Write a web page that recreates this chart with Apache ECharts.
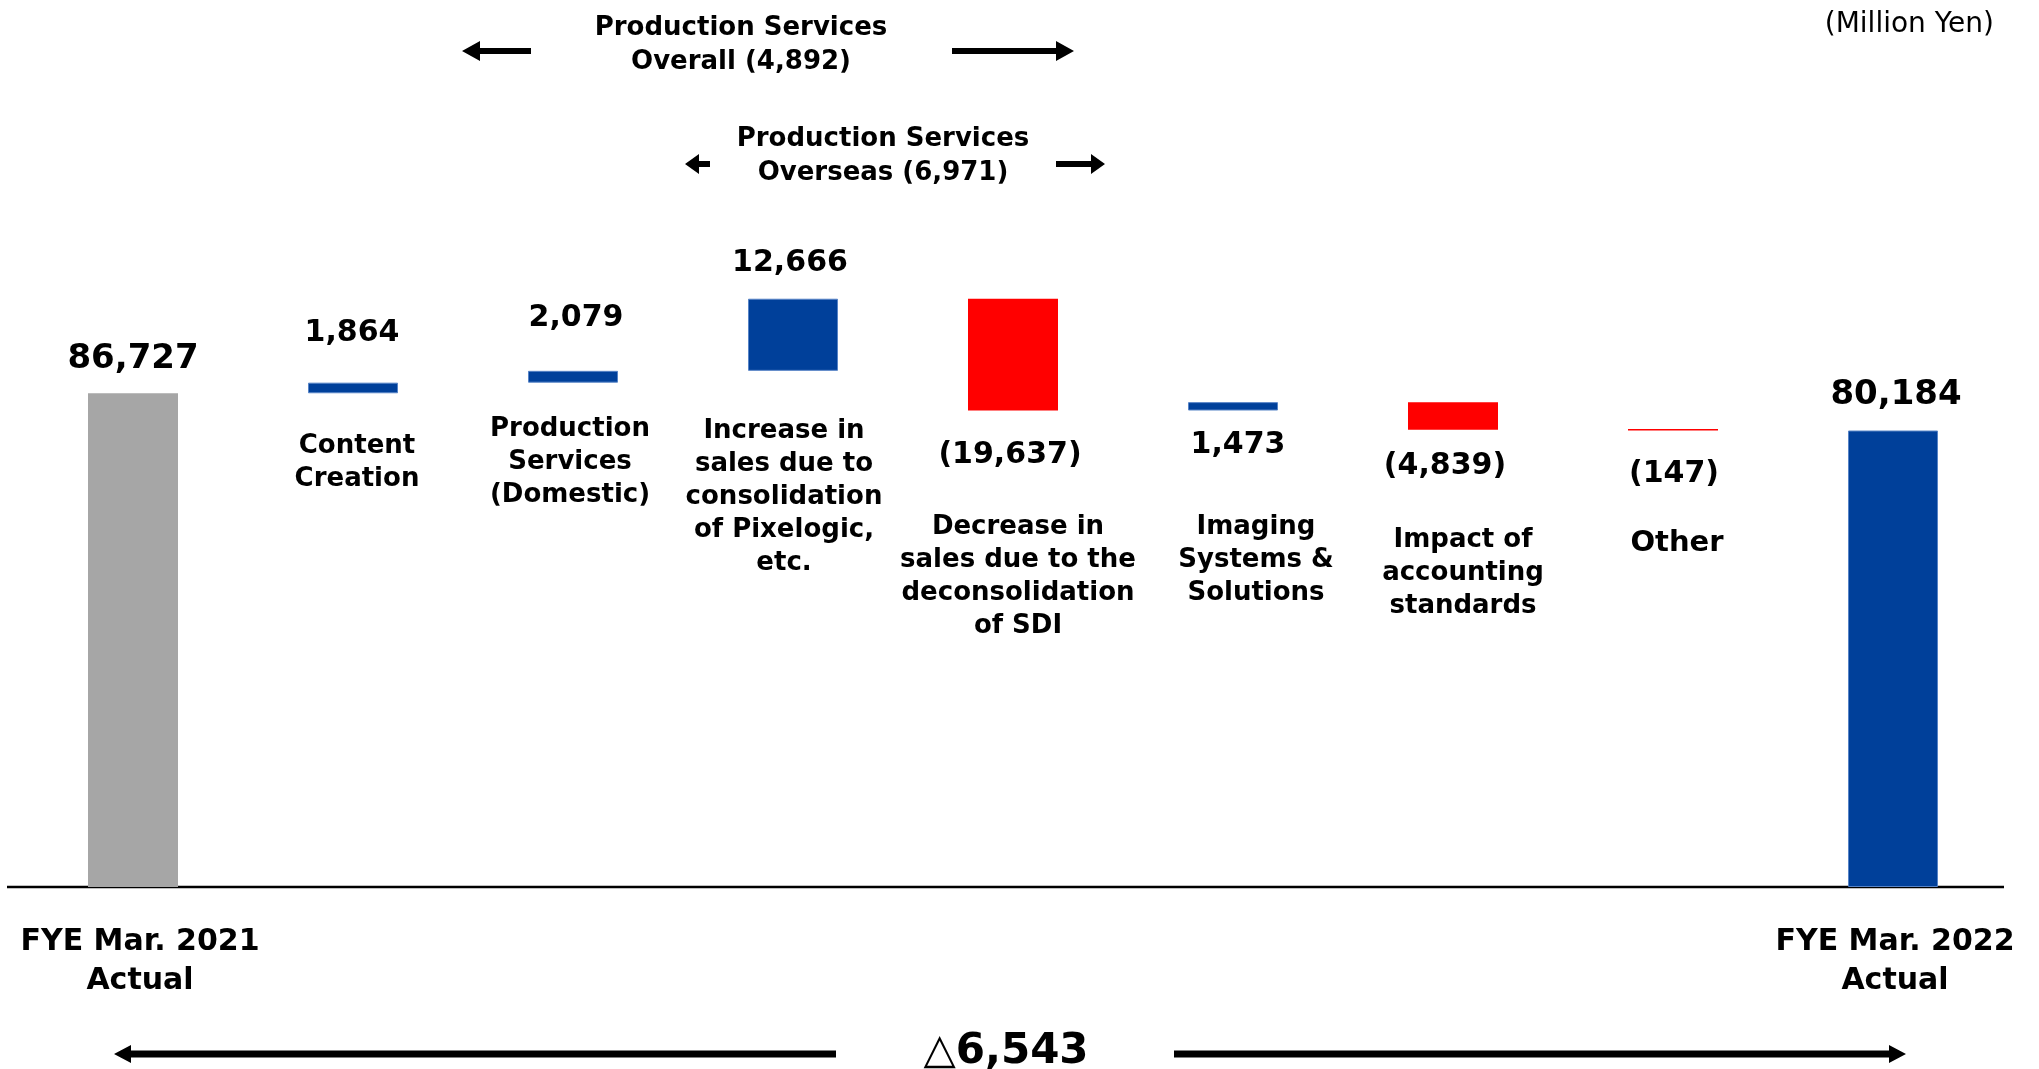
<!DOCTYPE html>
<html>
<head>
<meta charset="utf-8">
<title>Sales bridge FYE Mar. 2021 to FYE Mar. 2022</title>
<script src="https://cdn.jsdelivr.net/npm/echarts@6/dist/echarts.min.js"></script>
<style>
  html, body { margin: 0; padding: 0; background: #fff; }
  #chart { width: 2039px; height: 1069px; }
</style>
</head>
<body>
<div id="chart"></div>
<script>
// Sales bridge (Million Yen)
const startTotal = 86727;
const endTotal = 80184;
const changeValues = [1864, 2079, 12666, -19637, 1473, -4839, -147];
const categories = [
  'FYE Mar. 2021\nActual',
  'Content\nCreation',
  'Production\nServices\n(Domestic)',
  'Increase in\nsales due to\nconsolidation\nof Pixelogic,\netc.',
  'Decrease in\nsales due to the\ndeconsolidation\nof SDI',
  'Imaging\nSystems &\nSolutions',
  'Impact of\naccounting\nstandards',
  'Other',
  'FYE Mar. 2022\nActual'
];

const FONT = '"DejaVu Sans", Verdana, "Noto Sans", sans-serif';
const GRAY = '#A6A6A6';
const BLUE = '#00409A';
const RED = '#FF0000';

const fmt = v => {
  const s = Math.abs(v).toLocaleString('en-US');
  return v < 0 ? '(' + s + ')' : s;
};

// Signed values per column: opening total, changes, closing total
const signed = [startTotal].concat(changeValues, [endTotal]);
const lastIdx = signed.length - 1;

// Per-column value label placement
const valueLabelPlacement = [
  { position: 'top', distance: 17, fontSize: 34, dx: 0 },
  { position: 'top', distance: 34, dx: -1 },
  { position: 'top', distance: 38, dx: 3 },
  { position: 'top', distance: 21, dx: -3 },
  { position: 'bottom', distance: 30, dx: -3 },
  { position: 'bottom', distance: 20, dx: 5 },
  { position: 'bottom', distance: 22, dx: -8 },
  { position: 'bottom', distance: 29, dx: 1 },
  { position: 'top', distance: 18, fontSize: 34, dx: 3 }
];
// Offset of each change's name block from the lower end of its bar
const namePlacement = [
  null,
  { dx: 4, dy: 36.5, size: 26 },
  { dx: -3, dy: 30, size: 26 },
  { dx: -9, dy: 44, size: 26 },
  { dx: 5, dy: 100.5, size: 26 },
  { dx: 23, dy: 100.5, size: 26 },
  { dx: 10, dy: 94.5, size: 26 },
  { dx: 4, dy: 96.5, size: 29 },
  null
];

const baseData = [];
const barData = [];
const nameData = [];
let running = startTotal;
signed.forEach((v, i) => {
  const lp = valueLabelPlacement[i];
  let base, height, color;
  if (i === 0 || i === lastIdx) {
    base = 0;
    height = v;
    color = i === 0 ? GRAY : BLUE;
  } else {
    const next = running + v;
    base = Math.min(running, next);
    height = Math.abs(v);
    color = v >= 0 ? BLUE : RED;
    running = next;
    nameData.push([i, base]);
  }
  baseData.push(base);
  barData.push({
    value: height,
    itemStyle: color === BLUE
      ? { color: color, borderColor: '#5683C6', borderWidth: 1 }
      : { color: color, borderWidth: 0 },
    label: {
      position: lp.position,
      distance: lp.distance,
      offset: [lp.dx, 0],
      fontSize: lp.fontSize || 30,
      lineHeight: lp.fontSize || 30,
      formatter: () => fmt(v)
    }
  });
});

const overseasChange = changeValues[2] + changeValues[3];
const overallChange = changeValues[1] + overseasChange;
const totalChange = endTotal - startTotal;

const axisRich = {
  first: { fontSize: 30, fontWeight: 'bold', lineHeight: 39, color: '#000', fontFamily: FONT, padding: [0, 0, 0, 14] },
  last: { fontSize: 30, fontWeight: 'bold', lineHeight: 39, color: '#000', fontFamily: FONT, padding: [0, 0, 0, 4] }
};

const chart = echarts.init(document.getElementById('chart'), null, { renderer: 'canvas' });

chart.setOption({
  backgroundColor: '#ffffff',
  animation: false,
  textStyle: { fontFamily: FONT, color: '#000' },
  grid: { left: 23, right: 36, top: 90, bottom: 182, containLabel: false },
  xAxis: {
    type: 'category',
    data: categories,
    axisLine: { show: false },
    axisTick: { show: false },
    axisLabel: {
      interval: 0,
      margin: 36,
      fontSize: 30,
      fontWeight: 'bold',
      lineHeight: 39,
      color: '#000',
      fontFamily: FONT,
      rich: axisRich,
      formatter: (val, idx) => {
        if (idx !== 0 && idx !== lastIdx) return '';
        const key = idx === 0 ? 'first' : 'last';
        return val.split('\n').map(s => '{' + key + '|' + s + '}').join('\n');
      }
    }
  },
  yAxis: {
    type: 'value',
    min: 0,
    max: 140000,
    show: false,
    splitLine: { show: false }
  },
  series: [
    {
      name: 'base',
      type: 'bar',
      stack: 'bridge',
      barWidth: 90,
      silent: true,
      itemStyle: { color: 'transparent' },
      data: baseData
    },
    {
      name: 'change',
      type: 'bar',
      stack: 'bridge',
      barWidth: 90,
      barMinHeight: 1.5,
      silent: true,
      label: {
        show: true,
        color: '#000',
        fontWeight: 'bold',
        fontFamily: FONT
      },
      data: barData
    },
    {
      // Category names written under each change bar
      name: 'names',
      type: 'custom',
      silent: true,
      data: nameData,
      renderItem: (params, api) => {
        const idx = api.value(0);
        const pt = api.coord([idx, api.value(1)]);
        const np = namePlacement[idx];
        return {
          type: 'text',
          x: pt[0] + np.dx,
          y: pt[1] + np.dy,
          style: {
            text: categories[idx],
            fill: '#000',
            font: 'bold ' + np.size + 'px ' + FONT,
            lineHeight: 33,
            align: 'center',
            verticalAlign: 'top'
          }
        };
      }
    }
  ]
});

// Baseline, bracket arrows and annotation texts
function arrow(tailX, headX, y, shaft, headLen, headHalf) {
  const dir = headX > tailX ? 1 : -1;
  const neck = headX - dir * headLen;
  return {
    type: 'polygon',
    silent: true,
    shape: {
      points: [
        [tailX, y - shaft / 2], [neck, y - shaft / 2], [neck, y - headHalf],
        [headX, y], [neck, y + headHalf], [neck, y + shaft / 2], [tailX, y + shaft / 2]
      ]
    },
    style: { fill: '#000' }
  };
}
function text(str, x, y, opts) {
  return {
    type: 'text',
    silent: true,
    x: x, y: y,
    style: Object.assign({
      text: str,
      fill: '#000',
      font: 'bold 26px ' + FONT,
      lineHeight: 34,
      align: 'center',
      verticalAlign: 'middle'
    }, opts || {})
  };
}

const y0 = chart.convertToPixel({ yAxisIndex: 0 }, 0);
const signedDelta = v => (v < 0 ? '\u25B3' : '') + Math.abs(v).toLocaleString('en-US');

chart.setOption({
  graphic: [
    {
      type: 'line',
      silent: true,
      shape: { x1: 7, y1: y0, x2: 2004, y2: y0 },
      style: { stroke: '#000', lineWidth: 2.5 }
    },
    text('(Million Yen)', 1994, 25, { font: '28px ' + FONT, align: 'right' }),

    text('Production Services\nOverall ' + fmt(overallChange), 741, 45),
    arrow(531, 462, 51, 6, 18, 10),
    arrow(952, 1074, 51, 6, 18, 10),

    text('Production Services\nOverseas ' + fmt(overseasChange), 883, 156),
    arrow(710, 685, 164, 6, 14, 10),
    arrow(1056, 1105, 164, 6, 14, 10),

    text(signedDelta(totalChange), 1006, 1052, { font: 'bold 42px ' + FONT }),
    arrow(836, 114, 1054, 7, 17, 9),
    arrow(1174, 1906, 1054, 7, 17, 9)
  ]
});
</script>
</body>
</html>
